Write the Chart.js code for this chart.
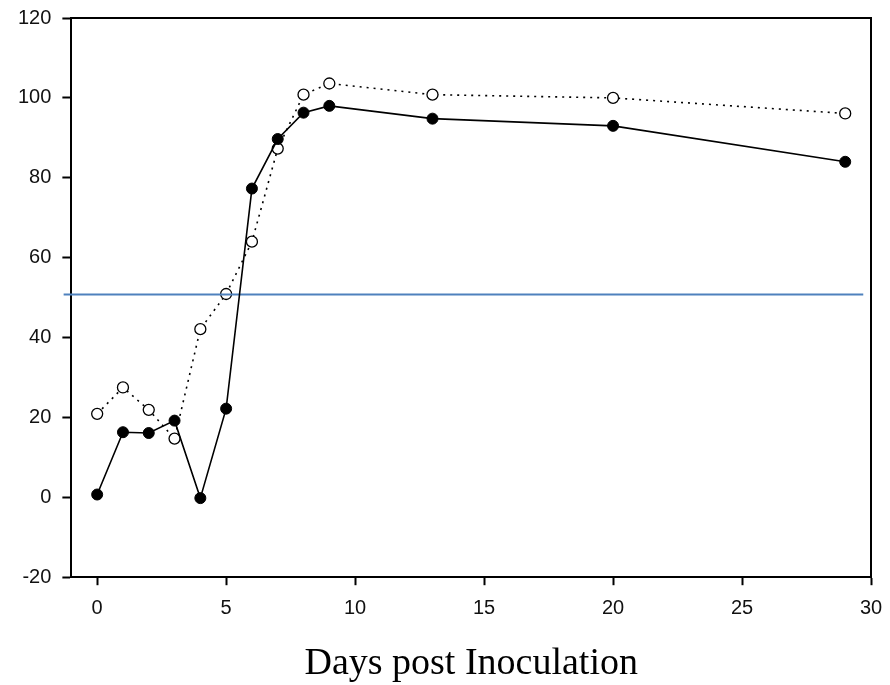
<!DOCTYPE html>
<html><head><meta charset="utf-8">
<script src="https://cdn.jsdelivr.net/npm/chart.js@4/dist/chart.umd.min.js"></script>
<style>html,body{margin:0;padding:0;background:#fff}#wrap{width:890px;height:685px}</style>
</head><body><div id="wrap"><canvas id="c" width="890" height="685"></canvas></div>
<script>
const days = [0,1,2,3,4,5,6,7,8,9,13,20,29];
const filledSeries = [0.7,16.3,16.1,19.2,-0.2,22.2,77.3,89.7,96.3,98.0,94.8,93.0,84.0];
const openSeries = [20.9,27.5,21.9,14.7,42.1,50.9,64.0,87.3,100.8,103.6,100.8,100.0,96.1];
const thresholdX = [-1.3, 29.7];
const thresholdY = [50.8, 50.8];
const xTicks = [0,5,10,15,20,25,30];
const yTicks = [-20,0,20,40,60,80,100,120];
const xTitle = 'Days post Inoculation';

const pts = (xs, ys) => xs.map((x, i) => ({x, y: ys[i]}));

const framePlugin = {
  id: 'frame',
  afterDatasetsDraw(chart) {
    const {ctx, chartArea: a} = chart;
    ctx.save();
    ctx.strokeStyle = '#000';
    ctx.lineWidth = 2;
    ctx.beginPath();
    ctx.moveTo(a.left, a.top);
    ctx.lineTo(a.right, a.top);
    ctx.lineTo(a.right, a.bottom);
    ctx.stroke();
    ctx.restore();
  }
};

new Chart(document.getElementById('c'), {
  type: 'scatter',
  data: {
    datasets: [
      {
        label: 'filled',
        data: pts(days, filledSeries),
        showLine: true,
        borderColor: '#000',
        borderWidth: 1.6,
        pointRadius: 5.5,
        pointBackgroundColor: '#000',
        pointBorderColor: '#000',
        pointBorderWidth: 1,
        order: 0
      },
      {
        label: 'threshold',
        data: pts(thresholdX, thresholdY),
        showLine: true,
        borderColor: '#4f81bd',
        borderWidth: 2,
        pointRadius: 0,
        clip: false,
        order: 1
      },
      {
        label: 'open',
        data: pts(days, openSeries),
        showLine: true,
        borderColor: '#000',
        borderWidth: 1.6,
        borderDash: [2, 5],
        pointRadius: 5.5,
        pointBackgroundColor: '#fff',
        pointBorderColor: '#000',
        pointBorderWidth: 1.3,
        order: 2
      }
    ]
  },
  options: {
    responsive: false,
    animation: false,
    devicePixelRatio: 1,
    layout: { padding: { left: 7, right: 19, top: 18, bottom: 0 } },
    plugins: { legend: { display: false }, tooltip: { enabled: false } },
    events: [],
    scales: {
      x: {
        type: 'linear',
        min: -1, max: 30,
        afterBuildTicks: s => { s.ticks = xTicks.map(v => ({value: v})); },
        afterFit: s => { s.paddingLeft = 0; s.paddingRight = 0; },
        grid: { display: true, drawOnChartArea: false, drawTicks: true, tickLength: 8, tickColor: '#000', tickWidth: 2 },
        border: { display: true, color: '#000', width: 2 },
        ticks: { font: { family: 'Liberation Sans', size: 20 }, color: '#111', padding: 11, maxRotation: 0 },
        title: { display: true, text: xTitle, color: '#000',
          font: { family: 'Liberation Serif', size: 38, lineHeight: 1.1 },
          padding: { top: 12, bottom: 0 } }
      },
      y: {
        type: 'linear',
        min: -20, max: 120,
        afterBuildTicks: s => { s.ticks = yTicks.map(v => ({value: v})); },
        afterFit: s => { s.paddingTop = 0; s.paddingBottom = 0; },
        grid: { display: true, drawOnChartArea: false, drawTicks: true, tickLength: 9, tickColor: '#000', tickWidth: 2 },
        border: { display: true, color: '#000', width: 2 },
        ticks: { font: { family: 'Liberation Sans', size: 20 }, color: '#111', padding: 11 }
      }
    }
  },
  plugins: [framePlugin]
});
</script>
</body></html>
